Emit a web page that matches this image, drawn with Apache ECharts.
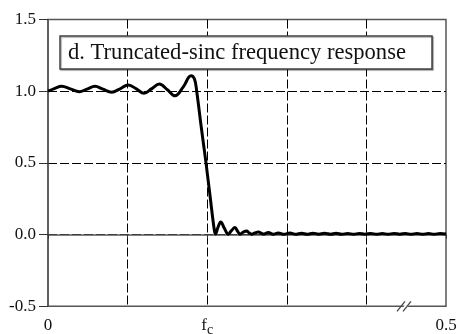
<!DOCTYPE html>
<html>
<head>
<meta charset="utf-8">
<script src="https://cdn.jsdelivr.net/npm/echarts@6/dist/echarts.min.js"></script>
<style>
html,body{margin:0;padding:0;background:#fff;}
#c{width:459px;height:334px;}
</style>
</head>
<body>
<div id="c"></div>
<script>
// Frequency (fraction of sampling rate)
const freq = [0, 0.008, 0.0172, 0.028, 0.0394, 0.049, 0.059, 0.069, 0.080, 0.090, 0.1009, 0.111, 0.1206, 0.130, 0.1399, 0.150, 0.1595, 0.170, 0.1796, 0.184, 0.1868, 0.1925, 0.1985, 0.204, 0.209, 0.2105, 0.2135, 0.217, 0.2215, 0.2265, 0.2305, 0.2349, 0.238, 0.2412, 0.2455, 0.2496, 0.2525, 0.2559, 0.260, 0.2642, 0.2705, 0.2768, 0.283, 0.2893, 0.2965, 0.304, 0.311, 0.3185, 0.3255, 0.333, 0.340, 0.3475, 0.355, 0.362, 0.369, 0.3765, 0.384, 0.391, 0.398, 0.4055, 0.413, 0.420, 0.427, 0.4345, 0.442, 0.449, 0.456, 0.4635, 0.471, 0.478, 0.485, 0.4925, 0.500];
// Amplitude
const mag = [1.000, 1.018, 1.034, 1.016, 0.997, 1.015, 1.034, 1.014, 0.993, 1.015, 1.044, 1.016, 0.986, 1.016, 1.050, 1.010, 0.968, 1.030, 1.108, 1.085, 1.000, 0.750, 0.500, 0.250, 0.030, 0.005, 0.050, 0.088, 0.045, 0.003, 0.028, 0.049, 0.025, 0.003, 0.018, 0.025, 0.012, 0.003, 0.012, 0.018, 0.004, 0.014, 0.003, 0.012, 0.002, 0.011, 0.002, 0.010, 0.002, 0.010, 0.003, 0.009, 0.002, 0.009, 0.002, 0.008, 0.002, 0.008, 0.003, 0.008, 0.002, 0.008, 0.002, 0.008, 0.003, 0.008, 0.002, 0.008, 0.002, 0.008, 0.002, 0.008, 0.004];
const yTicks = [-0.5, 0.0, 0.5, 1.0, 1.5];
const xTickLabels = {0: '0', 2: '{f|f}{c|c}', 5: '0.5'};
const titleText = 'd. Truncated-sinc frequency response';
const breakAt = 0.451;

const FONT = 'Liberation Serif';
const chart = echarts.init(document.getElementById('c'), null, {renderer: 'canvas'});
const data = freq.map((f, i) => [f, mag[i]]);

chart.setOption({
  animation: false,
  backgroundColor: '#fff',
  textStyle: {fontFamily: FONT},
  grid: {left: 48, right: 13, top: 19.5, bottom: 27.7, containLabel: false, outerBoundsMode: 'none',
         show: true, borderColor: '#555', borderWidth: 1.5, backgroundColor: 'transparent'},
  xAxis: {
    type: 'value', min: 0, max: 0.5, interval: 0.1,
    axisLine: {show: true, lineStyle: {color: '#555', width: 1.5}},
    axisTick: {show: true, length: 4, lineStyle: {color: '#333', width: 1}},
    splitLine: {show: true, showMinLine: false, showMaxLine: false, lineStyle: {color: '#000', width: 1, type: [9, 3]}},
    axisLabel: {
      margin: 11, color: '#111', fontFamily: FONT, fontSize: 17,
      formatter: v => { const k = Math.round(v * 10); return xTickLabels[k] || ''; },
      rich: {
        f: {fontFamily: FONT, fontSize: 17, color: '#111', verticalAlign: 'bottom', padding: [0, 0, 3, 0]},
        c: {fontFamily: FONT, fontSize: 14, color: '#111', verticalAlign: 'bottom'}
      }
    }
  },
  yAxis: {
    type: 'value', min: -0.5, max: 1.5, interval: 0.5,
    axisLine: {show: true, lineStyle: {color: '#555', width: 1.5}},
    axisTick: {show: true, length: 9, lineStyle: {color: '#333', width: 1}},
    splitLine: {show: true, showMinLine: false, showMaxLine: false, lineStyle: {color: '#000', width: 1, type: [9, 3]}},
    axisLabel: {
      margin: 12, color: '#111', fontFamily: FONT, fontSize: 17,
      formatter: v => yTicks.some(t => Math.abs(t - v) < 1e-9) ? v.toFixed(1) : ''
    }
  },
  series: [{
    type: 'line', data: data, showSymbol: false, smooth: 0.4,
    lineStyle: {color: '#000', width: 3}, z: 5
  }]
});

const pb = chart.convertToPixel({gridIndex: 0}, [breakAt, -0.5]);
const bx = pb[0], by = pb[1];

chart.setOption({
  graphic: [
    {type: 'rect', shape: {x: 60, y: 36, width: 372, height: 33},
     style: {fill: '#fff', stroke: '#444', lineWidth: 1.5, shadowColor: 'rgba(0,0,0,0.35)', shadowOffsetX: 1, shadowOffsetY: 1, shadowBlur: 1}, z: 10},
    {type: 'text', x: 68, y: 53, z: 11,
     style: {text: titleText, fill: '#111', fontFamily: FONT, fontSize: 22.6, verticalAlign: 'middle'}},
    {type: 'polygon', shape: {points: [[bx - 7, by + 5], [bx + 1, by - 5], [bx + 5, by - 5], [bx - 3, by + 5]]},
     style: {fill: '#fff'}, z: 20},
    {type: 'line', shape: {x1: bx - 10, y1: by + 5, x2: bx - 2, y2: by - 5}, style: {stroke: '#444', lineWidth: 1.3}, z: 21},
    {type: 'line', shape: {x1: bx - 4, y1: by + 5, x2: bx + 4, y2: by - 5}, style: {stroke: '#444', lineWidth: 1.3}, z: 21}
  ]
});
</script>
</body>
</html>
